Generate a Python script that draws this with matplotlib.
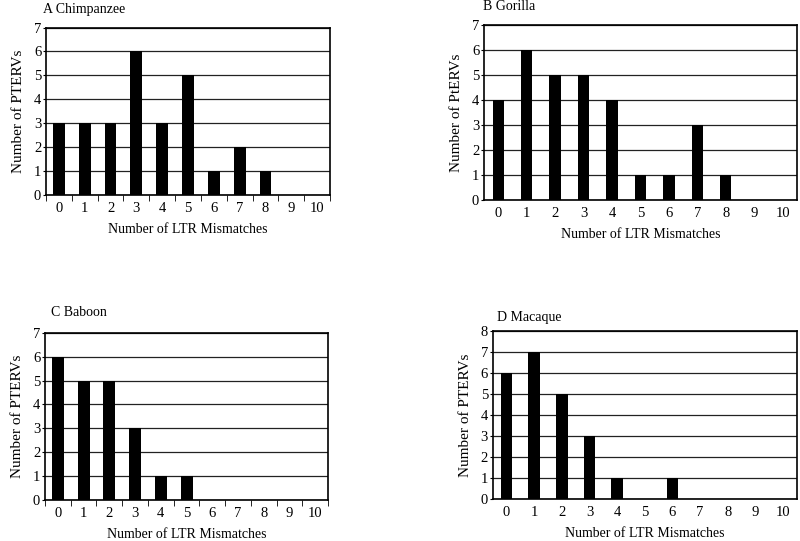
import matplotlib.pyplot as plt
import numpy as np

plt.rcParams['font.family'] = ['Liberation Serif', 'DejaVu Serif']

mismatches = list(range(11))
chimp = [3, 3, 3, 6, 3, 5, 1, 2, 1, 0, 0]
gorilla = [4, 6, 5, 5, 4, 1, 1, 3, 1, 0, 0]
baboon = [6, 5, 5, 3, 1, 1, 0, 0, 0, 0, 0]
macaque = [6, 7, 5, 3, 1, 0, 1, 0, 0, 0, 0]

panels = [
    ('A Chimpanzee', chimp, 'Number of PTERVs', 7, [0.0575, 0.640, 0.355, 0.309], (43, 9), True, 0.46),
    ('B Gorilla', gorilla, 'Number of PtERVs', 7, [0.605, 0.630, 0.391, 0.3235], (483, 7), False, 0.4),
    ('C Baboon', baboon, 'Number of PTERVs', 7, [0.05625, 0.0758, 0.354, 0.309], (51, 313), True, 0.46),
    ('D Macaque', macaque, 'Number of PTERVs', 8, [0.616, 0.0776, 0.38, 0.3105], (497, 317), False, 0.42),
]

fig = plt.figure(figsize=(8, 5.41), dpi=100)

for title, counts, ylab, ymax, rect, tpos, boundary_ticks, bw in panels:
    ax = fig.add_axes(rect)
    ax.bar(mismatches, counts, width=bw, color='black', zorder=3)
    ax.set_xlim(-0.5, 10.5)
    ax.set_ylim(0, ymax)
    ax.set_yticks(range(ymax + 1))
    ax.set_xticks(mismatches)
    ax.tick_params(axis='x', length=0, pad=5, labelsize=10.5)
    ax.tick_params(axis='y', length=2, direction='out', labelsize=10.5, pad=1.5)
    if boundary_ticks:
        ax.set_xticks(np.arange(-0.5, 11, 1), minor=True)
        ax.tick_params(axis='x', which='minor', length=4, direction='out')
    ax.yaxis.grid(True, color='#222222', linewidth=0.9, zorder=0)
    for s in ax.spines.values():
        s.set_color('black')
        s.set_linewidth(1.2)
    ax.set_xlabel('Number of LTR Mismatches', fontsize=10, labelpad=6)
    ax.set_ylabel(ylab, fontsize=11, labelpad=6)
    fig.text(tpos[0] / 800, 1 - tpos[1] / 541, title, fontsize=10, ha='left', va='center')

fig.savefig('out.png', dpi=100)
